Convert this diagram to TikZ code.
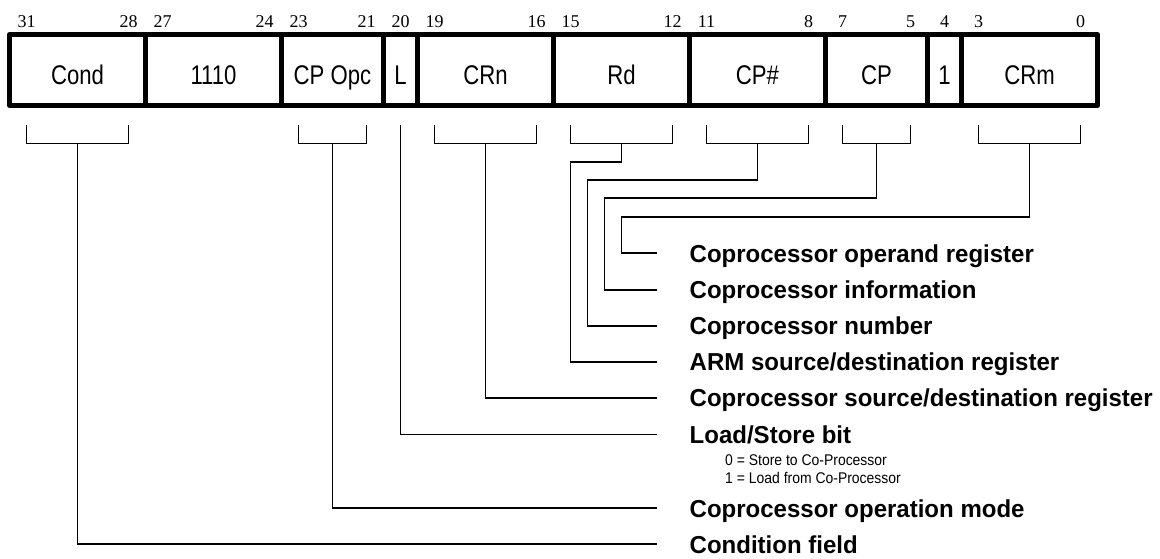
\documentclass[tikz,border=0pt]{standalone}
\usepackage{fontspec}
\setmainfont{Liberation Sans}
\newfontfamily\bitfont{Liberation Serif}
\newfontfamily\fieldfont[FakeStretch=0.82]{Liberation Sans}
\newfontfamily\descfont[FakeStretch=0.98]{Liberation Sans}
\newfontfamily\notefont[FakeStretch=0.9]{Liberation Sans}
\usetikzlibrary{positioning}

\tikzset{
    field/.style={draw, line width=5pt, line join=round, inner sep=0pt, minimum height=71pt,
        text height=29.2pt, text depth=0pt, font=\fieldfont\fontsize{27}{30}\selectfont},
    bitnum/.style={inner sep=0pt, anchor=base, font=\bitfont\fontsize{18}{20}\selectfont},
    wire/.style={line width=1.8pt},
    desc/.style={inner sep=0pt, text height=17.5pt, text depth=0pt, font=\descfont\bfseries\fontsize{24.5}{27}\selectfont},
    note/.style={inner sep=0pt, anchor=base west, font=\notefont\fontsize{15.5}{17}\selectfont}
}

\begin{document}
\begin{tikzpicture}[x=1pt, y=-1pt]
    \useasboundingbox (0,0) rectangle (1160,558);
    % Instruction fields, 34pt per bit
    \foreach \hi/\lo/\txt/\nm in {31/28/Cond/cond, 27/24/1110/fix, 23/21/CP Opc/opc, 20/20/L/ls,
        19/16/CRn/crn, 15/12/Rd/rd, 11/8/CP\#/cpn, 7/5/CP/cp, 4/4/1/one, 3/0/CRm/crm} {
        \pgfmathsetmacro\fx{9.5 + (31-\hi)*34 + (\hi-\lo+1)*17}
        \pgfmathsetmacro\fw{(\hi-\lo+1)*34}
        \node[field, minimum width=\fw pt] (\nm) at (\fx,70) {\txt};
        \node[bitnum] (b\hi) at ({26.5+(31-\hi)*34},27) {\hi};
        \ifnum\hi>\lo
            \node[bitnum] (b\lo) at ({26.5+(31-\lo)*34},27) {\lo};
        \fi
    }
    % Brackets under the fields
    \foreach \hi/\lo/\nm in {31/28/cond, 23/21/opc, 19/16/crn, 15/12/rd, 11/8/cpn, 7/5/cp, 3/0/crm} {
        \draw[wire] ({26.5+(31-\hi)*34},125) -- ({26.5+(31-\hi)*34},143.5)
            -- ({26.5+(31-\lo)*34},143.5) -- ({26.5+(31-\lo)*34},125);
        \coordinate (k\nm) at ({26.5+(31-(\hi+\lo)/2)*34},143.5);
    }
    \coordinate (kls) at (400.5,125);
    % Descriptions
    \foreach \y/\txt/\nm in {253.3/Coprocessor operand register/crm, 290/Coprocessor information/cp,
        326/Coprocessor number/cpn, 362/{ARM source/destination register}/rd,
        398/{Coprocessor source/destination register}/crn, 434.5/{Load/Store bit}/ls,
        508.3/Coprocessor operation mode/opc, 544.3/Condition field/cond} {
        \coordinate (e\nm) at (656.5,\y);
        \node[desc, right=33pt of e\nm] (t\nm) {\txt};
    }
    \node[note] (n0) at (725,465) {0 = Store to Co-Processor};
    \node[note] (n1) at (725,483) {1 = Load from Co-Processor};
    % Connectors
    \foreach \nm/\jx/\jy in {crm/621.5/216.7, cp/604.5/198.3, cpn/587.5/180, rd/570.5/161.7} {
        \draw[wire] (k\nm) |- (\jx,\jy) |- (e\nm);
    }
    \foreach \nm in {crn, ls, opc, cond} {
        \draw[wire] (k\nm) |- (e\nm);
    }
\end{tikzpicture}
\end{document}
